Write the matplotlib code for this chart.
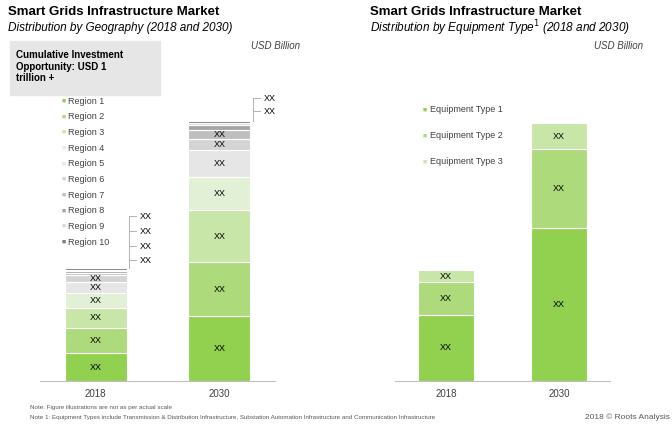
import matplotlib
matplotlib.use("Agg")
import matplotlib.pyplot as plt
from matplotlib.patches import Rectangle

plt.rcParams['font.family'] = ['Liberation Sans', 'DejaVu Sans']

years = ["2018", "2030"]
regions = ["Region 1","Region 2","Region 3","Region 4","Region 5","Region 6","Region 7","Region 8","Region 9","Region 10"]
region_2018 = [28, 25, 20, 15, 11, 7, 2, 2, 1.5, 1.5]
region_2030 = [65, 54, 52, 33, 27, 11, 9, 5, 2, 2]
region_colors = ["#92D050","#ADDB7C","#C9E6A9","#E2F0D5","#E6E6E6","#D4D4D4","#BFBFBF","#A6A6A6","#D9D9D9","#7F7F7F"]
equip = ["Equipment Type 1","Equipment Type 2","Equipment Type 3"]
equip_2018 = [66, 33, 12]
equip_2030 = [153, 79, 26]
equip_colors = ["#92D050","#ADDB7C","#C9E6A9"]

W, H = 672, 424
fig = plt.figure(figsize=(6.72, 4.24), dpi=100)

def ax_at(x0, x1, ytop, ybot):
    return fig.add_axes([x0/W, 1-ybot/H, (x1-x0)/W, (ybot-ytop)/H])

def stack(ax, vals_list, colors, show_labels):
    for i, vals in enumerate(vals_list):
        bottom = 0
        for j, v in enumerate(vals):
            ax.bar(i, v, bottom=bottom, width=0.5, color=colors[j], edgecolor="white", linewidth=0.8)
            if show_labels[i][j]:
                ax.text(i, bottom + v/2, "XX", ha="center", va="center", fontsize=6.5)
            bottom += v

axL = ax_at(40, 275, 60, 381)
stack(axL, [region_2018, region_2030], region_colors,
      [[True]*6 + [False]*4, [True]*7 + [False]*3])
axL.set_xlim(-0.45, 1.45)
axL.set_ylim(0, 321)
axL.set_xticks([0, 1]); axL.set_xticklabels(years, fontsize=7, color="#404040")
axL.set_yticks([])
for s in ["top", "right", "left"]:
    axL.spines[s].set_visible(False)
axL.spines["bottom"].set_color("#BFBFBF")
axL.tick_params(axis="x", length=0, pad=6)
top18 = sum(region_2018); top30 = sum(region_2030)
axL.plot([0.27, 0.27], [top18, 165], color="#A6A6A6", lw=0.6)
for y in [165, 150, 135, 121]:
    axL.plot([0.27, 0.33], [y, y], color="#A6A6A6", lw=0.6)
    axL.text(0.36, y, "XX", va="center", fontsize=6.5)
axL.plot([1.27, 1.27], [top30, 283], color="#A6A6A6", lw=0.6)
for y in [283, 270]:
    axL.plot([1.27, 1.33], [y, y], color="#A6A6A6", lw=0.6)
    axL.text(1.36, y, "XX", va="center", fontsize=6.5)
for k, (r, c) in enumerate(zip(regions, region_colors)):
    yy = 1 - (101 + k*15.7)/H
    fig.text(62/W, yy, "■", color=c, fontsize=5, va="center")
    fig.text(68/W, yy, r, fontsize=6.5, va="center", color="#404040")
fig.patches.append(Rectangle((10/W, 1-95/H), 150/W, 54/H, transform=fig.transFigure, color="#E7E6E6", zorder=0))
fig.text(16/W, 1-50/H, "Cumulative Investment\nOpportunity: USD 1\ntrillion +", fontsize=7, fontweight="bold", va="top", linespacing=1.2)

axR = ax_at(395, 610, 60, 381)
stack(axR, [equip_2018, equip_2030], equip_colors, [[True]*3, [True]*3])
axR.set_xlim(-0.45, 1.45)
axR.set_ylim(0, 321)
axR.set_xticks([0, 1]); axR.set_xticklabels(years, fontsize=7, color="#404040")
axR.set_yticks([])
for s in ["top", "right", "left"]:
    axR.spines[s].set_visible(False)
axR.spines["bottom"].set_color("#BFBFBF")
axR.tick_params(axis="x", length=0, pad=6)
for k, (r, c) in enumerate(zip(equip, equip_colors)):
    yy = 1 - (110 + k*26)/H
    fig.text(423/W, yy, "■", color=c, fontsize=5, va="center")
    fig.text(430/W, yy, r, fontsize=6.5, va="center", color="#404040")

fig.text(8/W, 1-12/H, "Smart Grids Infrastructure Market", fontsize=9.5, fontweight="bold", va="center")
fig.text(8/W, 1-28/H, "Distribution by Geography (2018 and 2030)", fontsize=8.5, style="italic", va="center")
fig.text(370/W, 1-12/H, "Smart Grids Infrastructure Market", fontsize=9.5, fontweight="bold", va="center")
fig.text(370/W, 1-28/H, "Distribution by Equipment Type$^{1}$ (2018 and 2030)", fontsize=8.5, style="italic", va="center")
fig.text(300/W, 1-46/H, "USD Billion", fontsize=7, style="italic", ha="right", va="center", color="#404040")
fig.text(643/W, 1-46/H, "USD Billion", fontsize=7, style="italic", ha="right", va="center", color="#404040")

fig.text(30/W, 1-407/H, "Note: Figure illustrations are not as per actual scale", fontsize=4.5, color="#595959", va="center")
fig.text(30/W, 1-418/H, "Note 1: Equipment Types include Transmission & Distribution Infrastructure, Substation Automation Infrastructure and Communication Infrastructure", fontsize=4.5, color="#595959", va="center")
fig.text(670/W, 1-417/H, "2018 © Roots Analysis", fontsize=6, color="#595959", ha="right", va="center")

fig.savefig("out.png", dpi=100)
